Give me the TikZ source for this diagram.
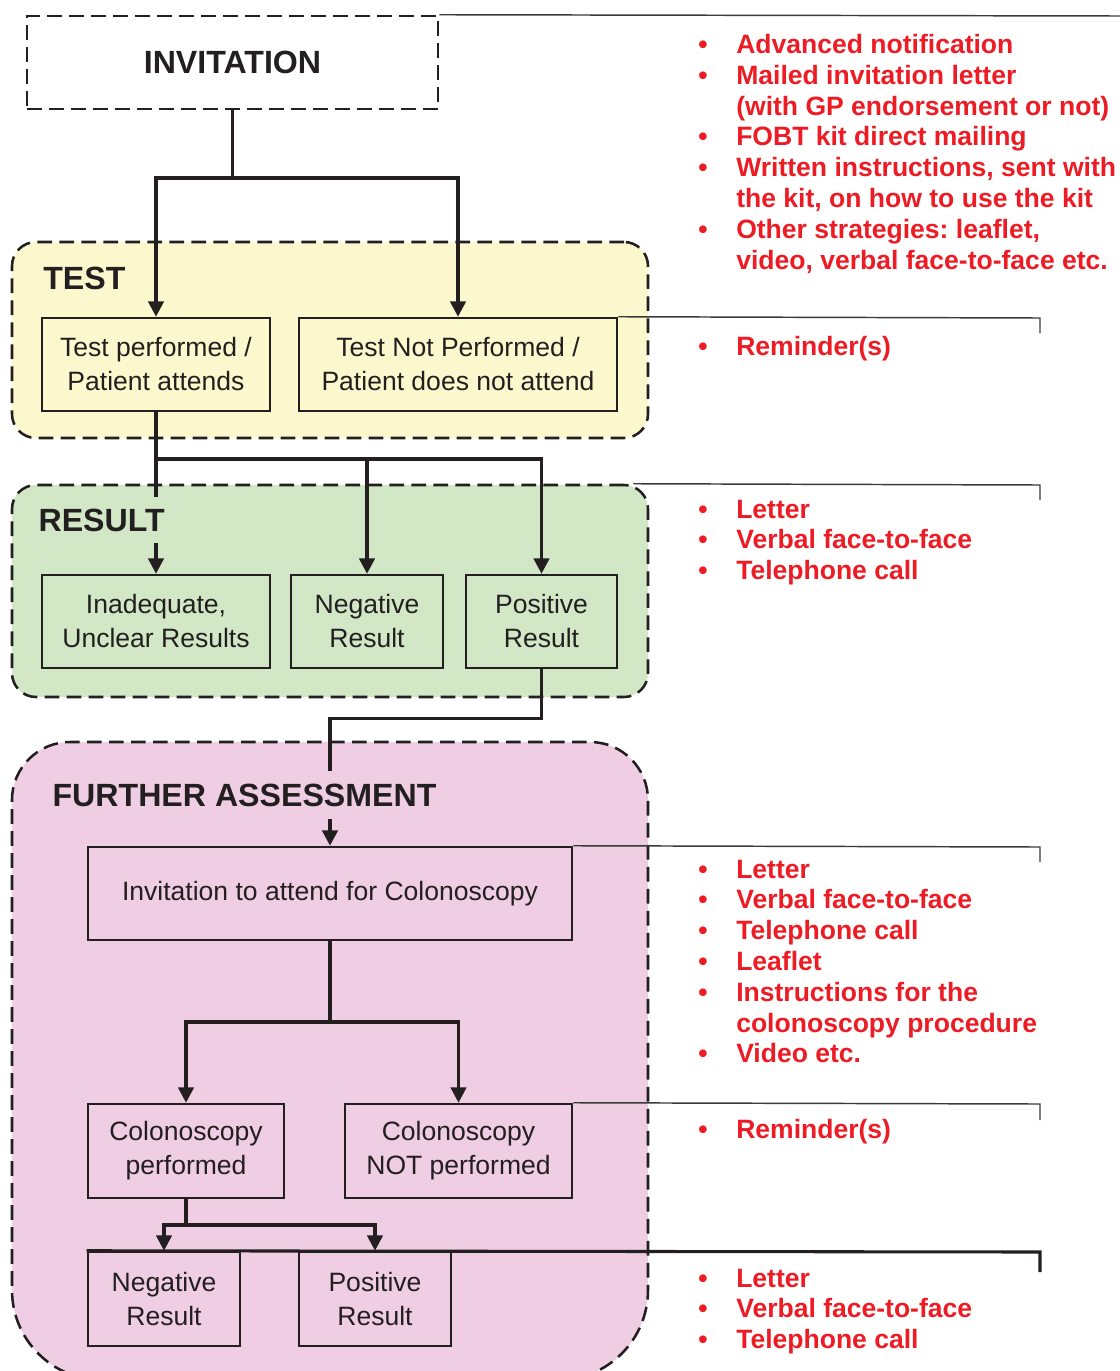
\documentclass[tikz,border=0pt]{standalone}
\usepackage{fontspec}
\setmainfont{Liberation Sans}
\usetikzlibrary{arrows.meta}
\definecolor{ink}{HTML}{231F20}
\definecolor{yel}{HTML}{FCF8CE}
\definecolor{grn}{HTML}{D1E7C5}
\definecolor{pnk}{HTML}{EFCDE3}
\definecolor{redt}{HTML}{ED1C24}
\definecolor{thinc}{HTML}{3A3A3A}
\newcommand\bul{\makebox[28.5pt][l]{•}}
\newcommand\nob{\hspace*{28.5pt}}
\frenchspacing
\begin{document}
\begin{tikzpicture}[x=0.75pt,y=-0.75pt,
 boxtxt/.style={font=\fontsize{19.9pt}{25.5pt}\selectfont, text=ink, align=center},
 fbox/.style={boxtxt, draw=ink, line width=1.9pt, inner sep=0pt},
 region/.style={draw=ink, line width=1.9pt, dash pattern=on 11pt off 5.5pt, rounded corners=18pt},
 hdr/.style={font=\fontsize{24.1pt}{28pt}\selectfont\bfseries, text=ink, inner sep=0pt},
 conn/.style={draw=ink, line width=2.5pt},
 arr/.style={conn, -{Triangle[width=11.5pt,length=11.5pt]}},
 bracket/.style={draw=thinc, line width=1.1pt},
 redlist/.style={font=\fontsize{19.9pt}{23.1pt}\selectfont\bfseries, text=redt, align=left, inner sep=0pt, anchor=north west},
]
\useasboundingbox (0,0) rectangle (1120,1371);
% regions
\node[region, fill=yel, minimum width=477pt, minimum height=147pt] (TEST) at (330,340) {};
\node[region, fill=grn, minimum width=477pt, minimum height=159pt] (RES) at (330,591) {};
\path[region, fill=pnk, rounded corners=0pt] (330,742) [rounded corners=43.5pt] -| (648,1000) [rounded corners=67.5pt] |- (330,1380) -| (12,1000) [rounded corners=43.5pt] |- (330,742);
% invitation
\node[fbox, hdr, draw=ink, line width=1.9pt, dash pattern=on 11pt off 5.5pt, minimum width=308.25pt, minimum height=69.75pt] (INV) at (232.5,62.5) {INVITATION};
% boxes
\node[fbox, fill=yel, minimum width=171pt, minimum height=69.75pt] (b1) at (156,364.5) {Test performed /\\Patient attends};
\node[fbox, fill=yel, minimum width=238.5pt, minimum height=69.75pt] (b2) at (458,364.5) {Test Not Performed /\\Patient does not attend};
\node[fbox, fill=grn, minimum width=171pt, minimum height=69.75pt] (r1) at (156,621.5) {Inadequate,\\Unclear Results};
\node[fbox, fill=grn, minimum width=114pt, minimum height=69.75pt] (r2) at (367,621.5) {Negative\\Result};
\node[fbox, fill=grn, minimum width=113.25pt, minimum height=69.75pt] (r3) at (541.5,621.5) {Positive\\Result};
\node[fbox, fill=pnk, minimum width=363pt, minimum height=69.75pt] (c1) at (330,893.5) {Invitation to attend for Colonoscopy};
\node[fbox, fill=pnk, minimum width=147pt, minimum height=70.5pt] (cp) at (186,1151) {Colonoscopy\\performed};
\node[fbox, fill=pnk, minimum width=170.25pt, minimum height=70.5pt] (cn) at (458.5,1151) {Colonoscopy\\NOT performed};
\node[fbox, fill=pnk, minimum width=114pt, minimum height=70.5pt] (n2) at (164,1299) {Negative\\Result};
\node[fbox, fill=pnk, minimum width=114pt, minimum height=70.5pt] (p2) at (375,1299) {Positive\\Result};
% brackets
\coordinate (e0) at (1120,16);
\draw[bracket] (INV.north east) -- (e0);
\coordinate (k1) at (1040,318);
\draw[bracket] (b2.north east) -- (k1) -- ++(0,15);
\coordinate (k2) at (1040,485);
\draw[bracket] ([xshift=-12pt]RES.north east) -- (k2) -- ++(0,15);
\coordinate (k3) at (1040,847);
\draw[bracket] (c1.north east) -- (k3) -- ++(0,15);
\coordinate (k4) at (1040,1104);
\draw[bracket] (cn.north east) -- (k4) -- ++(0,16);
\coordinate (k5) at (1040,1252);
\draw[bracket, draw=ink, line width=2.3pt] (n2.north west) -- (k5) -- ++(0,20);
% connectors
\coordinate (j1) at (INV.south |- 0,178);
\draw[conn] (INV.south) -- (j1);
\draw[arr] (j1) -| (b1.north);
\draw[arr] (j1) -| (b2.north);
\coordinate (j2) at (b1.south |- 0,459);
\draw[conn] (b1.south) -- (j2);
\draw[arr] (j2) -- (r1.north);
\draw[arr] (j2) -| (r2.north);
\draw[arr] (j2) -| (r3.north);
\draw[arr] (r3.south) -- ++(0,49) -| (c1.north);
\coordinate (j3) at (c1.south |- 0,1022);
\draw[conn] (c1.south) -- (j3);
\draw[arr] (j3) -| (cp.north);
\draw[arr] (j3) -| (cn.north);
\coordinate (j4) at (cp.south |- 0,1225);
\draw[conn] (cp.south) -- (j4);
\draw[arr] (j4) -| (n2.north);
\draw[arr] (j4) -| (p2.north);
% labels
\node[hdr, anchor=west] (TESTL) at (43,278) {TEST};
\node[hdr, anchor=west, fill=grn, minimum height=34.5pt, inner xsep=1pt] (RESL) at (37,520) {RESULT};
\node[hdr, anchor=west, fill=pnk, minimum height=36pt, inner xsep=1pt] (FAL) at (51,795) {FURTHER ASSESSMENT};
% red lists
\node[redlist] (L1) at (698,34) {\bul Advanced notification\\\bul Mailed invitation letter\\\nob(with GP endorsement or not)\\\bul FOBT kit direct mailing\\\bul Written instructions, sent with\\\nob the kit, on how to use the kit\\\bul Other strategies: leaflet,\\\nob video, verbal face-to-face etc.};
\node[redlist] (L2) at (698,336) {\bul Reminder(s)};
\node[redlist] (L3) at (698,499.5) {\bul Letter\\\bul Verbal face-to-face\\\bul Telephone call};
\node[redlist] (L4) at (698,859.5) {\bul Letter\\\bul Verbal face-to-face\\\bul Telephone call\\\bul Leaflet\\\bul Instructions for the\\\nob colonoscopy procedure\\\bul Video etc.};
\node[redlist] (L5) at (698,1119) {\bul Reminder(s)};
\node[redlist] (L6) at (698,1268.5) {\bul Letter\\\bul Verbal face-to-face\\\bul Telephone call};
\end{tikzpicture}
\end{document}
